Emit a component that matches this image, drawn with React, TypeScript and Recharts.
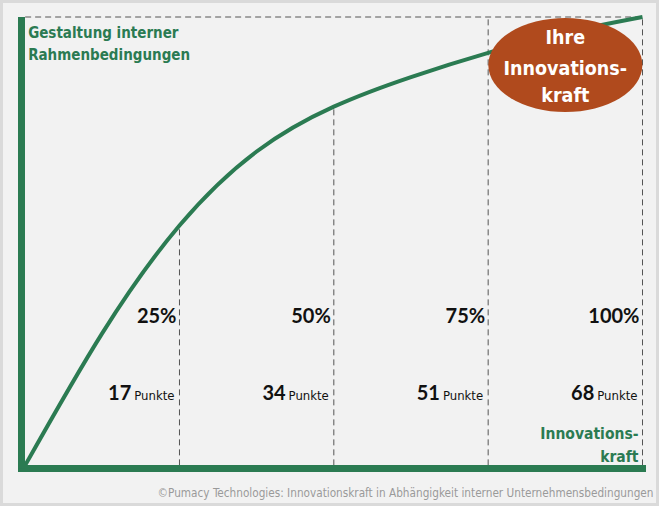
import React from "react";
import {
  LineChart,
  Line,
  XAxis,
  YAxis,
  ReferenceLine,
  ReferenceDot,
} from "recharts";

// points (Innovationskraft in Punkten vs. Rahmenbedingungen in %)
const punkte = [0, 8.5, 17, 25.5, 34, 42.5, 51, 59.5, 68];
const rahmen = [0, 29.5, 53.5, 70, 80, 86.6, 92, 96.5, 100];

const marks = [17, 34, 51, 68];
const percentLabels = ["25%", "50%", "75%", "100%"];
const pointLabels = ["17", "34", "51", "68"];
const dashTop = [53.5, 80, 100, 100];

const badgePos = { x: 59.5, y: 89.3 };

const data = punkte.map((p, i) => ({ x: p, y: rahmen[i] }));

const GREEN = "#2b7b52";
const NARROW = "'DejaVu Sans Condensed', 'Liberation Sans Narrow', sans-serif";
const NUM = "Lato, 'Open Sans', sans-serif";

export default function App() {
  return (
    <div
      style={{
        position: "absolute",
        left: 0,
        top: 0,
        width: 659,
        height: 506,
        boxSizing: "border-box",
        border: "3px solid #dadada",
        background: "#f2f2f2",
      }}
    >
      <LineChart
        width={653}
        height={500}
        data={data}
        margin={{ top: 14, right: 13.5, bottom: 33.5, left: 17.5 }}
      >
        <XAxis
          type="number"
          dataKey="x"
          domain={[-0.4, 68]}
          height={1}
          tick={false}
          tickLine={false}
          axisLine={{ stroke: GREEN, strokeWidth: 7, strokeLinecap: "square" }}
        />
        <YAxis
          type="number"
          domain={[-0.7, 100]}
          width={1}
          tick={false}
          tickLine={false}
          axisLine={{ stroke: GREEN, strokeWidth: 7 }}
        />
        <ReferenceLine
          segment={[
            { x: 0, y: 100 },
            { x: 68, y: 100 },
          ]}
          stroke="#555"
          strokeDasharray="6 4"
        />
        {marks.map((m, i) => (
          <ReferenceLine
            key={m}
            segment={[
              { x: m, y: 0 },
              { x: m, y: dashTop[i] },
            ]}
            stroke="#555"
            strokeDasharray="6 4"
          />
        ))}
        <Line
          type="natural"
          dataKey="y"
          stroke={GREEN}
          strokeWidth={4}
          dot={false}
          isAnimationActive={false}
        />
        {marks.map((m, i) => (
          <ReferenceDot
            key={"l" + m}
            x={m}
            y={0}
            r={0}
            shape={(p: any) => (
              <g>
                <text
                  x={p.cx - 3}
                  y={p.cy - 142.5}
                  textAnchor="end"
                  fontFamily={NUM}
                  fontWeight="bold"
                  fontSize={20}
                  fill="#111"
                >
                  {percentLabels[i]}
                </text>
                <text
                  x={p.cx - 5}
                  y={p.cy - 65.5}
                  textAnchor="end"
                  fill="#111"
                >
                  <tspan fontFamily={NUM} fontWeight="bold" fontSize={20}>
                    {pointLabels[i]}
                  </tspan>
                  <tspan fontFamily={NARROW} fontSize={13} dx={3}>
                    Punkte
                  </tspan>
                </text>
              </g>
            )}
          />
        ))}
        <ReferenceDot
          x={68}
          y={0}
          r={0}
          shape={(p: any) => (
            <g>
              <text
                textAnchor="end"
                fontFamily={NARROW}
                fontWeight="bold"
                fontSize={15.5}
                fill={GREEN}
              >
                <tspan x={p.cx - 4} y={p.cy - 26.5}>
                  Innovations-
                </tspan>
                <tspan x={p.cx - 4} y={p.cy - 3.5}>
                  kraft
                </tspan>
              </text>
              <text
                x={p.cx + 11}
                y={p.cy + 31.5}
                textAnchor="end"
                fontFamily={NARROW}
                fontSize={11.7}
                fill="#9a9a9a"
              >
                ©Pumacy Technologies: Innovationskraft in Abhängigkeit interner Unternehmensbedingungen
              </text>
            </g>
          )}
        />
        <ReferenceDot
          x={0}
          y={100}
          r={0}
          shape={(p: any) => (
            <text
              fontFamily={NARROW}
              fontWeight="bold"
              fontSize={15}
              fill={GREEN}
            >
              <tspan x={p.cx + 3} y={p.cy + 21}>
                Gestaltung interner
              </tspan>
              <tspan x={p.cx + 3} y={p.cy + 43}>
                Rahmenbedingungen
              </tspan>
            </text>
          )}
        />
        <ReferenceDot
          x={badgePos.x}
          y={badgePos.y}
          r={0}
          shape={(p: any) => (
            <g>
              <ellipse cx={p.cx} cy={p.cy} rx={77} ry={47} fill="#b04a1d" />
              <text
                textAnchor="middle"
                fontFamily={NARROW}
                fontWeight="bold"
                fontSize={19.5}
                fill="#fff"
              >
                <tspan x={p.cx} y={p.cy - 21}>
                  Ihre
                </tspan>
                <tspan x={p.cx} y={p.cy + 10}>
                  Innovations-
                </tspan>
                <tspan x={p.cx} y={p.cy + 37}>
                  kraft
                </tspan>
              </text>
            </g>
          )}
        />
      </LineChart>
    </div>
  );
}
